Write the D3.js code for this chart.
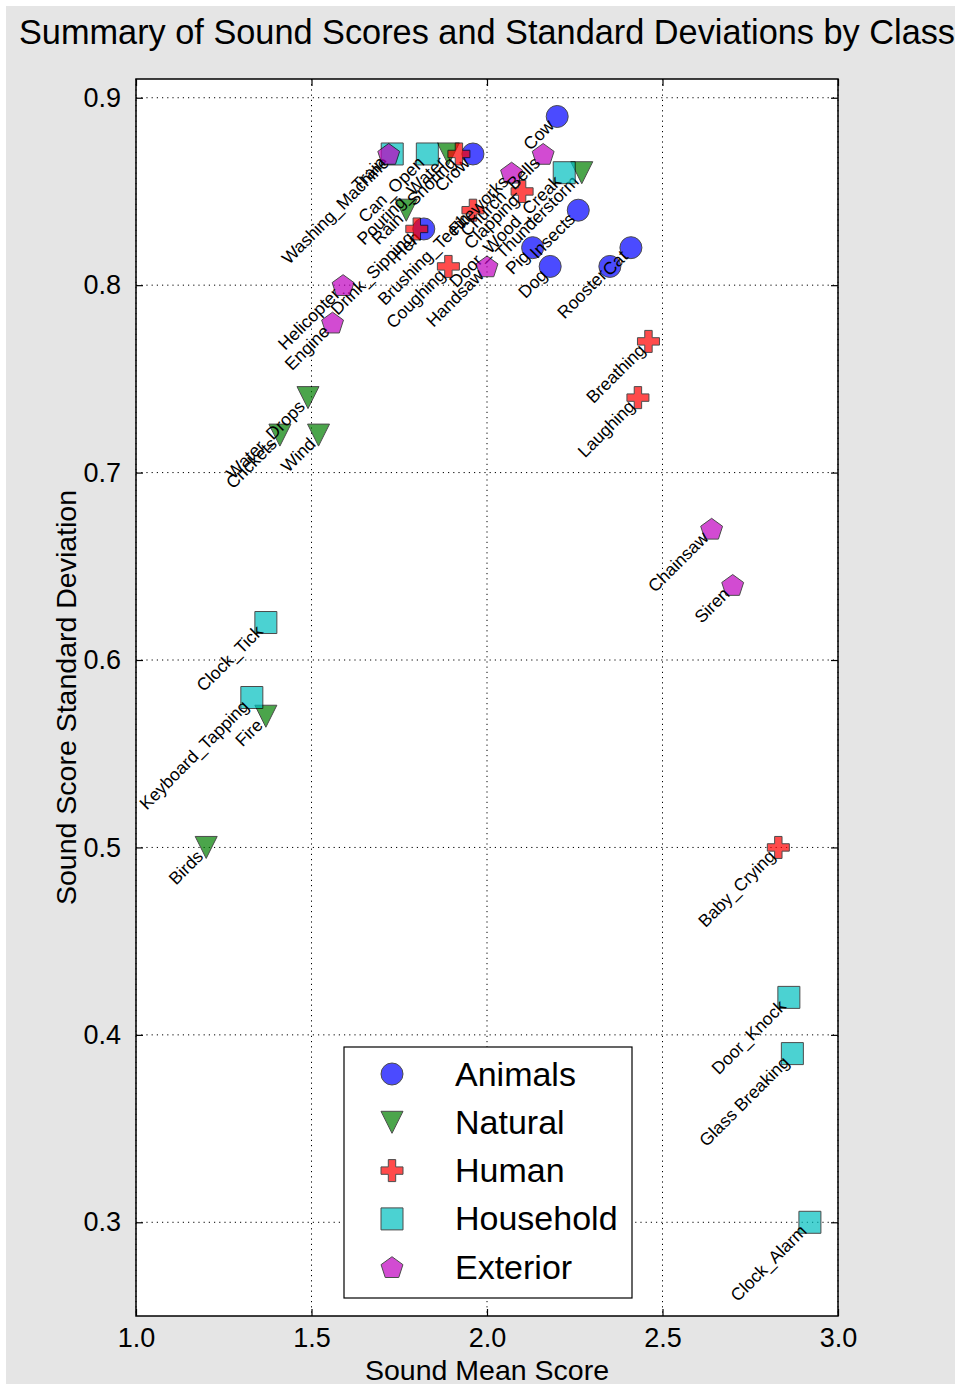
<!DOCTYPE html>
<html>
<head>
<meta charset="utf-8">
<script src="https://cdn.jsdelivr.net/npm/d3@7"></script>
<style>
  body { margin: 0; background: #fff; }
  text { font-family: 'Liberation Sans', Arial, sans-serif; }
</style>
</head>
<body>
<div id="chart"></div>
<script>
const categories = ['Animals', 'Natural', 'Human', 'Household', 'Exterior'];

const animalsNames = ['Cow', 'Crow', 'Hen', 'Insects', 'Pig', 'Dog', 'Rooster', 'Cat'];
const animalsMean = [2.20, 1.96, 1.82, 2.26, 2.13, 2.18, 2.35, 2.41];
const animalsStd = [0.89, 0.87, 0.83, 0.84, 0.82, 0.81, 0.81, 0.82];

const naturalNames = ['Pouring_Water', 'Rain', 'Thunderstorm', 'Water_Drops', 'Crickets', 'Wind', 'Fire', 'Birds'];
const naturalMean = [1.89, 1.77, 2.27, 1.49, 1.41, 1.52, 1.37, 1.20];
const naturalStd = [0.87, 0.84, 0.86, 0.74, 0.72, 0.72, 0.57, 0.50];

const humanNames = ['Snoring', 'Drink_Sipping', 'Brushing_Teeth', 'Clapping', 'Coughing', 'Breathing', 'Laughing', 'Baby_Crying'];
const humanMean = [1.92, 1.80, 1.96, 2.10, 1.89, 2.46, 2.43, 2.83];
const humanStd = [0.87, 0.83, 0.84, 0.85, 0.81, 0.77, 0.74, 0.50];

const householdNames = ['Washing_Machine', 'Can_Open', 'Door_Wood_Creak', 'Clock_Tick', 'Keyboard_Tapping', 'Door_Knock', 'Glass Breaking', 'Clock_Alarm'];
const householdMean = [1.73, 1.83, 2.22, 1.37, 1.33, 2.86, 2.87, 2.92];
const householdStd = [0.87, 0.87, 0.86, 0.62, 0.58, 0.42, 0.39, 0.30];

const exteriorNames = ['Train', 'Church_Bells', 'Fireworks', 'Handsaw', 'Helicopter', 'Engine', 'Chainsaw', 'Siren'];
const exteriorMean = [1.72, 2.16, 2.07, 2.00, 1.59, 1.56, 2.64, 2.70];
const exteriorStd = [0.87, 0.87, 0.86, 0.81, 0.80, 0.78, 0.67, 0.64];

const xTicks = [1.0, 1.5, 2.0, 2.5, 3.0];
const yTicks = [0.3, 0.4, 0.5, 0.6, 0.7, 0.8, 0.9];

const groups = [
  { names: animalsNames, mean: animalsMean, std: animalsStd },
  { names: naturalNames, mean: naturalMean, std: naturalStd },
  { names: humanNames, mean: humanMean, std: humanStd },
  { names: householdNames, mean: householdMean, std: householdStd },
  { names: exteriorNames, mean: exteriorMean, std: exteriorStd }
].map((g, i) => ({
  category: categories[i],
  points: g.names.map((name, j) => ({ name, mean: g.mean[j], std: g.std[j] }))
}));

const width = 958;
const height = 1390;
const margin = { top: 79, right: 120, bottom: 74, left: 136 };
const plotW = width - margin.left - margin.right;
const plotH = height - margin.top - margin.bottom;

const colors = ['#0000ff', '#008000', '#ff0000', '#00bfbf', '#bf00bf'];

// marker shapes, ~22px across
const pentagon = d3.range(5).map(k => {
  const a = -Math.PI / 2 + k * 2 * Math.PI / 5;
  return [11.5 * Math.cos(a), 11.5 * Math.sin(a) + 1];
});
const shapes = [
  'M11,0A11,11 0 1,1 -11,0A11,11 0 1,1 11,0Z',
  'M-11,-11L11,-11L0,11Z',
  'M-3.7,-11H3.7V-3.7H11V3.7H3.7V11H-3.7V3.7H-11V-3.7H-3.7Z',
  'M-11,-11H11V11H-11Z',
  'M' + pentagon.map(p => p.join(',')).join('L') + 'Z'
];

const x = d3.scaleLinear().domain([1, 3]).range([0, plotW]);
const y = d3.scaleLinear().domain([0.25, 0.91]).range([plotH, 0]);

const svg = d3.select('#chart').append('svg')
  .attr('width', width)
  .attr('height', height);

svg.append('rect')
  .attr('x', 6).attr('y', 6)
  .attr('width', 949).attr('height', 1378)
  .attr('fill', '#e5e5e5');

const g = svg.append('g').attr('transform', `translate(${margin.left},${margin.top})`);

g.append('rect')
  .attr('width', plotW).attr('height', plotH)
  .attr('fill', '#fff');

// dotted grid
g.append('g')
  .selectAll('line')
  .data(xTicks)
  .join('line')
  .attr('x1', d => x(d)).attr('x2', d => x(d))
  .attr('y1', 0).attr('y2', plotH)
  .attr('stroke', '#000').attr('stroke-width', 1)
  .attr('stroke-dasharray', '1.2,4');

g.append('g')
  .selectAll('line')
  .data(yTicks)
  .join('line')
  .attr('y1', d => y(d)).attr('y2', d => y(d))
  .attr('x1', 0).attr('x2', plotW)
  .attr('stroke', '#000').attr('stroke-width', 1)
  .attr('stroke-dasharray', '1.2,4');

// axes with inward ticks on all sides
const tick = 7;
const axisStyle = sel => {
  sel.select('.domain').remove();
  sel.selectAll('line').attr('stroke', '#000').attr('stroke-width', 1.2);
  sel.selectAll('text').attr('fill', '#000').attr('font-size', 27);
};

g.append('g')
  .attr('transform', `translate(0,${plotH})`)
  .call(d3.axisBottom(x).tickValues(xTicks).tickFormat(d3.format('.1f')).tickSizeInner(-tick).tickPadding(12))
  .call(axisStyle);

g.append('g')
  .call(d3.axisTop(x).tickValues(xTicks).tickFormat('').tickSizeInner(-tick))
  .call(axisStyle);

g.append('g')
  .call(d3.axisLeft(y).tickValues(yTicks).tickFormat(d3.format('.1f')).tickSizeInner(-tick).tickPadding(15))
  .call(axisStyle);

g.append('g')
  .attr('transform', `translate(${plotW},0)`)
  .call(d3.axisRight(y).tickValues(yTicks).tickFormat('').tickSizeInner(-tick))
  .call(axisStyle);

// points and their labels, one category after another
groups.forEach((grp, i) => {
  const layer = g.append('g');
  layer.selectAll('path')
    .data(grp.points)
    .join('path')
    .attr('d', shapes[i])
    .attr('transform', d => `translate(${x(d.mean)},${y(d.std)})`)
    .attr('fill', colors[i])
    .attr('stroke', '#000')
    .attr('stroke-width', 1)
    .attr('opacity', 0.7);

  layer.selectAll('text')
    .data(grp.points)
    .join('text')
    .attr('transform', d => `translate(${x(d.mean) - 2},${y(d.std) + 10}) rotate(-45)`)
    .attr('text-anchor', 'end')
    .attr('font-size', 17.5)
    .attr('fill', '#000')
    .text(d => d.name);
});

g.append('rect')
  .attr('width', plotW).attr('height', plotH)
  .attr('fill', 'none')
  .attr('stroke', '#000')
  .attr('stroke-width', 1.5);

// legend
const legend = g.append('g')
  .attr('transform', `translate(${344 - margin.left},${1047 - margin.top})`);

legend.append('rect')
  .attr('width', 288).attr('height', 251)
  .attr('fill', '#fff')
  .attr('stroke', '#000')
  .attr('stroke-width', 1.2);

const item = legend.selectAll('g')
  .data(categories)
  .join('g')
  .attr('transform', (d, i) => `translate(48,${27 + i * 48.3})`);

item.append('path')
  .attr('d', (d, i) => shapes[i])
  .attr('fill', (d, i) => colors[i])
  .attr('stroke', '#000')
  .attr('stroke-width', 1)
  .attr('opacity', 0.7);

item.append('text')
  .attr('x', 63)
  .attr('y', 11.5)
  .attr('font-size', 34)
  .attr('fill', '#000')
  .text(d => d);

// titles
svg.append('text')
  .attr('x', margin.left + plotW / 2)
  .attr('y', 44)
  .attr('text-anchor', 'middle')
  .attr('font-size', 34.3)
  .text('Summary of Sound Scores and Standard Deviations by Class');

svg.append('text')
  .attr('x', margin.left + plotW / 2)
  .attr('y', 1380)
  .attr('text-anchor', 'middle')
  .attr('font-size', 28.5)
  .text('Sound Mean Score');

svg.append('text')
  .attr('transform', `translate(76,${margin.top + plotH / 2}) rotate(-90)`)
  .attr('text-anchor', 'middle')
  .attr('font-size', 28.5)
  .text('Sound Score Standard Deviation');
</script>
</body>
</html>
